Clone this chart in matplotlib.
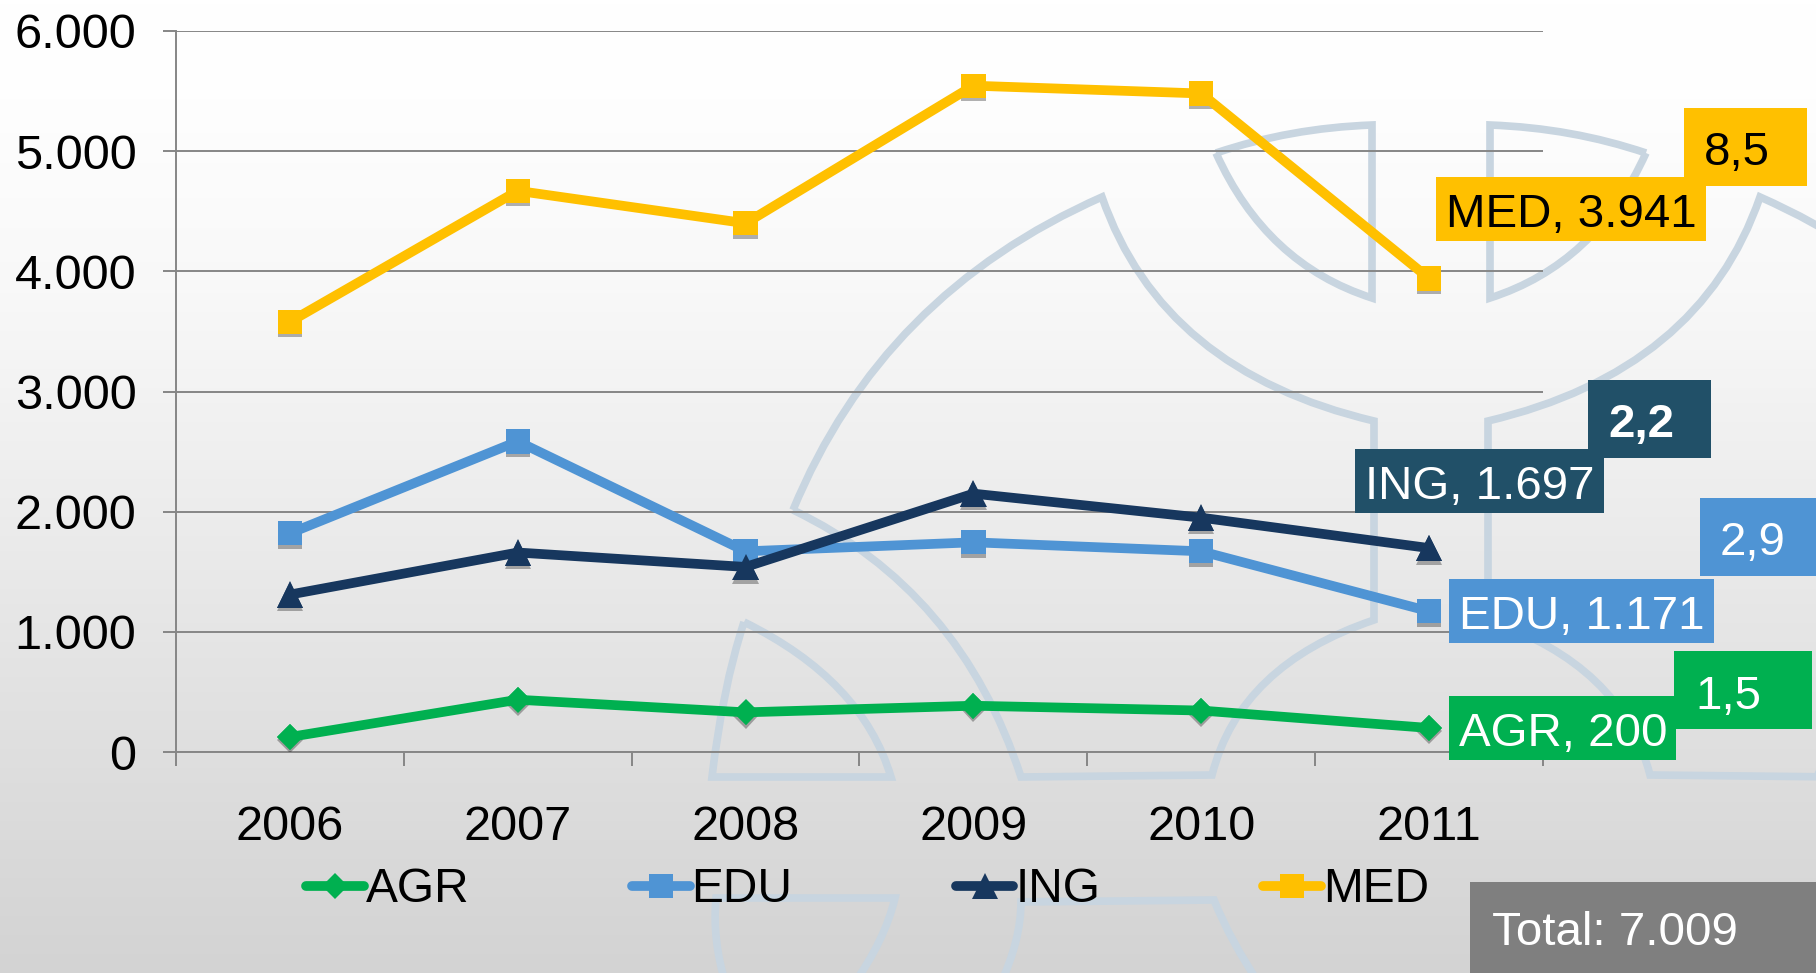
#lines per area 2006-2011, with logo watermark on a grey gradient
import matplotlib
matplotlib.use("Agg")
import matplotlib.pyplot as plt
import matplotlib.patheffects as pe
from matplotlib.colors import LinearSegmentedColormap
from matplotlib.patches import PathPatch, Rectangle
from matplotlib.path import Path
import numpy as np

plt.rcParams['font.family'] = ['Liberation Sans', 'DejaVu Sans']

years = ["2006", "2007", "2008", "2009", "2010", "2011"]
agr = [125, 435, 330, 385, 345, 200]
edu = [1820, 2585, 1670, 1745, 1670, 1171]
ing = [1310, 1660, 1540, 2150, 1950, 1697]
med = [3580, 4670, 4400, 5545, 5480, 3941]
y_ticks = [0, 1000, 2000, 3000, 4000, 5000, 6000]
y_labels = ["0", "1.000", "2.000", "3.000", "4.000", "5.000", "6.000"]

W, H = 1816, 973
FS = 35
FS_LEG = 34.5
FS_BOX = 34.2
GRID = "#868686"
LOGO = "#c8d5e0"
M, L, C, S = Path.MOVETO, Path.LINETO, Path.CURVE3, Path.CLOSEPOLY

fig = plt.figure(figsize=(W / 100, H / 100), dpi=100)

# fondo
bg = fig.add_axes([0, 0, 1, 1], zorder=0)
bg.set_xlim(0, W)
bg.set_ylim(H, 0)
bg.axis("off")
grad = np.linspace(0, 1, 256).reshape(-1, 1)
cmap = LinearSegmentedColormap.from_list("g", [(0, "#ffffff"), (0.1, "#fefefe"), (0.3, "#f8f8f8"),
                                               (0.55, "#ebebeb"), (0.75, "#e0e0e0"), (1, "#d3d3d3")])
bg.imshow(grad, extent=(0, W, H, 0), aspect="auto", zorder=0, vmin=0, vmax=1, cmap=cmap)


def logo(verts, codes, mirror=False):
    v = np.array(verts, dtype=float)
    if mirror:
        v[:, 0] = 2862 - v[:, 0]
    bg.add_patch(PathPatch(Path(v, codes), fill=False, ec=LOGO, lw=5.5, joinstyle="miter", zorder=1))


big = [(793, 510), (882, 294), (1102, 197), (1162, 371), (1374, 421), (1374, 620),
       (1240, 665), (1212, 775), (1021, 777), (960, 590), (793, 510)]
big_c = [M, C, C, C, C, L, C, C, L, C, C]
petal = [(1216, 153), (1290, 128), (1372, 125), (1372, 298), (1266, 264), (1216, 153)]
petal_c = [M, C, C, L, C, C]
for m in (False, True):
    logo(big, big_c, m)
    logo(petal, petal_c, m)
logo([(744, 622), (862, 680), (891, 777), (712, 777), (722, 690), (744, 622)], [M, C, C, L, C, C])
logo([(726, 985), (712, 940), (716, 898), (895, 898), (885, 940), (853, 985)], [M, C, C, L, C, C])
logo([(1000, 985), (1021, 940), (1021, 902), (1214, 900), (1230, 940), (1260, 985)], [M, C, C, L, C, C])

# grafico
ax = fig.add_axes([176 / W, 1 - 752 / H, (1543 - 176) / W, (752 - 31) / H], zorder=1)
ax.patch.set_alpha(0)
x = np.arange(len(years))
shadow = [pe.withSimplePatchShadow(offset=(0, -2.5), shadow_rgbFace="#000000", alpha=0.3)]
series = [("AGR", agr, "#00b050", "D", 13), ("EDU", edu, "#4f94d4", "s", 17.5),
          ("ING", ing, "#17375e", "^", 19), ("MED", med, "#ffc000", "s", 17.5)]
for name, vals, col, mk, ms in series:
    ax.plot(x, vals, ls="none", marker=mk, ms=ms, color=col, mew=0, zorder=3, path_effects=shadow)
    ax.plot(x, vals, color=col, lw=7, marker=mk, ms=ms, mew=0, label=name, zorder=4,
            solid_capstyle="round", solid_joinstyle="miter")

ax.set_xlim(-0.5, 5.5)
ax.set_ylim(0, 6000)
ax.set_yticks(y_ticks, y_labels, fontsize=FS)
ax.set_xticks(np.arange(-0.5, 6, 1), [""] * 7)
ax.set_xticks(x, years, minor=True, fontsize=FS)
ax.tick_params(axis="y", length=9.5, width=1.4, color=GRID, pad=19)
ax.tick_params(axis="x", which="major", length=10, width=1.4, color=GRID)
ax.tick_params(axis="x", which="minor", length=0, pad=38)
ax.grid(axis="y", color=GRID, lw=1.4, zorder=1)
ax.set_axisbelow(True)
for s in ("top", "right"):
    ax.spines[s].set_visible(False)
for s in ("left", "bottom"):
    ax.spines[s].set_color(GRID)
    ax.spines[s].set_linewidth(1.4)

ax.legend(loc="center left", bbox_to_anchor=((306 - 176) / 1367, (752 - 890) / 721), ncols=4, frameon=False,
          fontsize=FS_LEG, handlelength=1.2, handletextpad=0.04, columnspacing=3.405, borderpad=0, borderaxespad=0)

# etiquetas
top = fig.add_axes([0, 0, 1, 1], zorder=2)
top.set_xlim(0, W)
top.set_ylim(H, 0)
top.axis("off")
boxes = [
    (1684, 108, 123, 78, "#ffc000", "8,5", "black", "normal", 1737, 148, "center"),
    (1436, 177, 270, 64, "#ffc000", "MED, 3.941", "black", "normal", 1446, 210, "left"),
    (1588, 380, 123, 78, "#215068", "2,2", "white", "bold", 1641, 420, "center"),
    (1355, 449, 249, 64, "#215068", "ING, 1.697", "white", "normal", 1365, 482, "left"),
    (1700, 498, 116, 78, "#4f94d4", "2,9", "white", "normal", 1753, 538, "center"),
    (1449, 579, 265, 64, "#4f94d4", "EDU, 1.171", "white", "normal", 1459, 612, "left"),
    (1674, 651, 138, 78, "#00b050", "1,5", "white", "normal", 1728, 692, "center"),
    (1449, 696, 227, 64, "#00b050", "AGR, 200", "white", "normal", 1459, 729, "left"),
    (1470, 882, 346, 91, "#7f7f7f", "Total: 7.009", "white", "normal", 1492, 928, "left"),
]
for bx, by, bw, bh, col, txt, tc, fw, tx, ty, ha in boxes:
    top.add_patch(Rectangle((bx, by), bw, bh, fc=col, ec="none"))
    top.text(tx, ty, txt, color=tc, fontsize=FS_BOX, fontweight=fw, ha=ha, va="center_baseline")

fig.savefig("out.png", dpi=100)
